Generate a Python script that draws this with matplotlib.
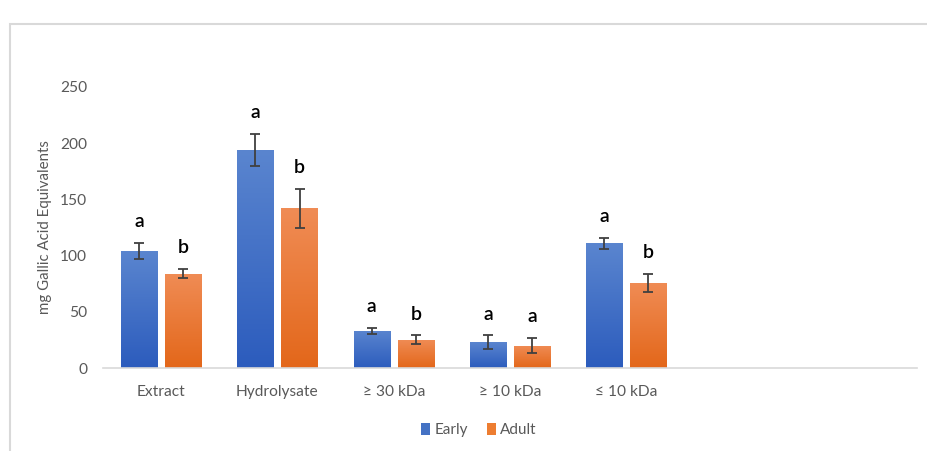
import numpy as np
import matplotlib.pyplot as plt
from matplotlib.patches import Rectangle
from matplotlib.colors import LinearSegmentedColormap

# dati
categorie = ['Extract', 'Hydrolysate', '≥ 30 kDa', '≥ 10 kDa', '≤ 10 kDa', '', '']
early = [104, 194, 33, 23, 111]
early_err = [7, 14, 3, 6, 5]
adult = [84, 142, 25, 20, 76]
adult_err = [4, 17, 4, 7, 8]
lettere_early = ['a', 'a', 'a', 'a', 'a']
lettere_adult = ['b', 'b', 'b', 'a', 'b']

plt.rcParams['font.family'] = ['Lato', 'DejaVu Sans']

fig = plt.figure(figsize=(9.27, 4.51), dpi=100)
ax = fig.add_axes([103/927, 1-368/451, (917-103)/927, (368-87)/451])

# bordo esterno
fig.patches.append(Rectangle((10/927, -0.1), 1.2, 1-24/451+0.1, transform=fig.transFigure,
                             fill=False, edgecolor='#d9d9d9', lw=1.5))

x = np.arange(len(categorie))
w = 0.31
off = 0.19
n = len(early)

blu = LinearSegmentedColormap.from_list('blu', ['#2c5cbd', '#5a85cf'])
arancio = LinearSegmentedColormap.from_list('ara', ['#e3671a', '#f08c55'])
grad = np.linspace(0, 1, 100).reshape(-1, 1)

def barre(pos, vals, errs, col, cmap, lab):
    bars = ax.bar(pos, vals, w, color=col, label=lab, zorder=2)
    for b in bars:
        im = ax.imshow(grad, cmap=cmap, aspect='auto', origin='lower',
                       extent=[b.get_x(), b.get_x()+b.get_width(), 0, b.get_height()], zorder=2.1)
        im.set_clip_path(b)
    ax.errorbar(pos, vals, yerr=errs, fmt='none', ecolor='#404040', elinewidth=1.3,
                capsize=3.5, capthick=1.3, zorder=3)
    return bars

barre(x[:n]-off, early, early_err, '#4472c4', blu, 'Early')
barre(x[:n]+off, adult, adult_err, '#ed7d31', arancio, 'Adult')

for i in range(n):
    ax.text(x[i]-off, early[i]+early_err[i]+19, lettere_early[i], ha='center', va='center',
            fontsize=14, fontweight='semibold', color='black')
    ax.text(x[i]+off, adult[i]+adult_err[i]+19, lettere_adult[i], ha='center', va='center',
            fontsize=14, fontweight='semibold', color='black')

ax.set_xlim(-0.5, len(categorie)-0.5)
ax.set_ylim(0, 250)
ax.set_yticks([0, 50, 100, 150, 200, 250])
ax.set_xticks(x)
ax.set_xticklabels(categorie)
ax.tick_params(length=0, labelsize=11.2, labelcolor='#595959')
ax.tick_params(axis='x', pad=12)
ax.tick_params(axis='y', pad=11.5)
for s in ['top', 'right', 'left']:
    ax.spines[s].set_visible(False)
ax.spines['bottom'].set_color('#d9d9d9')
ax.spines['bottom'].set_linewidth(1.2)
ax.set_ylabel('mg Gallic Acid Equivalents', fontsize=10.8, color='#595959', labelpad=6)

ax.legend(loc='center', bbox_to_anchor=(479/927, 1-430/451), bbox_transform=fig.transFigure,
          ncol=2, frameon=False, fontsize=11, labelcolor='#595959', handlelength=0.6,
          handleheight=0.8, handletextpad=0.3, columnspacing=1.2)

fig.savefig('out.png', dpi=100)
